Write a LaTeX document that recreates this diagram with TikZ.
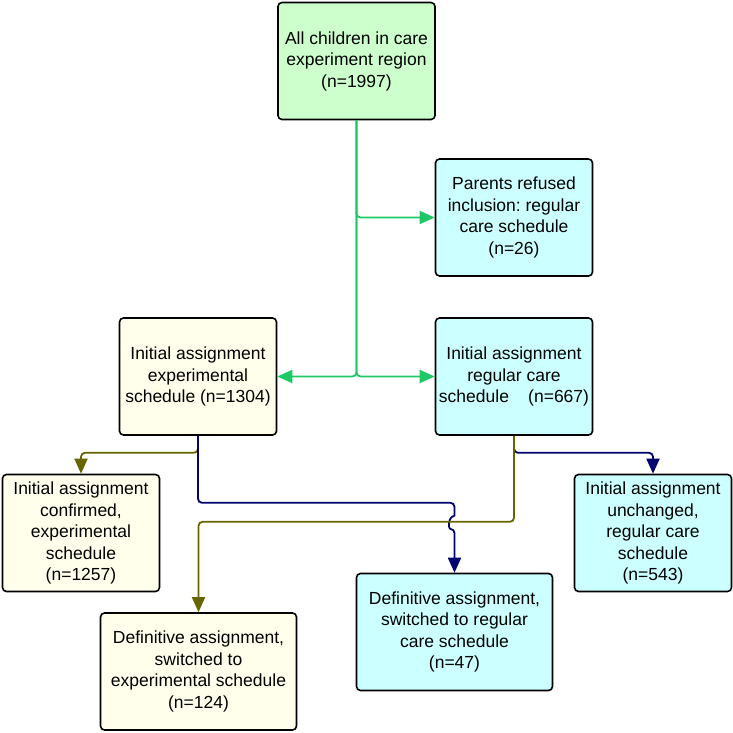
\documentclass[tikz,border=0pt]{standalone}
\usepackage{fontspec}
\setmainfont{Liberation Sans}
\frenchspacing
\usetikzlibrary{arrows.meta}
\definecolor{gline}{RGB}{30,200,100}
\definecolor{oline}{RGB}{102,102,0}
\definecolor{nline}{RGB}{0,0,110}
\definecolor{gfill}{RGB}{204,255,204}
\definecolor{cfill}{RGB}{204,255,255}
\definecolor{yfill}{RGB}{255,255,236}
\begin{document}
\begin{tikzpicture}[x=1pt,y=-1pt,
  box/.style={draw=black,line width=1.6pt,rounded corners=4pt,align=center,inner sep=2pt,
    font=\fontsize{17.5}{21.5}\selectfont,minimum width=157pt,minimum height=117pt},
  wbox/.style={box,minimum width=196pt},
  gbox/.style={box,fill=gfill},
  cbox/.style={box,fill=cfill},
  ybox/.style={box,fill=yfill},
  conn/.style={line width=1.8pt,rounded corners=4pt,-{Triangle[length=15pt,width=13pt]}},
  gconn/.style={conn,draw=gline,color=gline},
  oconn/.style={conn,draw=oline,color=oline},
  nconn/.style={conn,draw=nline,color=nline}]
\useasboundingbox (0,0) rectangle (733,733);
\node[gbox] (top) at (356.5,61) {All children in care\\experiment region\\(n=1997)};
\node[cbox] (parents) at (514,217.5) {Parents refused\\inclusion: regular\\care schedule\\(n=26)};
\node[ybox] (initexp) at (198,376.5) {Initial assignment\\experimental\\schedule (n=1304)};
\node[cbox] (initreg) at (514,376.5) {Initial assignment\\regular care\\schedule\hspace{1.1em}(n=667)};
\node[ybox] (confirmed) at (81,533) {Initial assignment\\confirmed,\\experimental\\schedule\\(n=1257)};
\node[cbox] (unchanged) at (653,533) {Initial assignment\\unchanged,\\regular care\\schedule\\(n=543)};
\node[cbox,wbox] (defreg) at (454.5,632) {Definitive assignment,\\switched to regular\\care schedule\\(n=47)};
\node[ybox,wbox] (defexp) at (198.5,671.5) {Definitive assignment,\\switched to\\experimental schedule\\(n=124)};
% green connectors
\draw[gconn] (top.south) |- (parents.west);
\draw[gconn] (top.south) |- (initexp.east);
\draw[gconn] (top.south) |- (initreg.west);
% from initial experimental
\draw[oconn] (initexp.south) -- ++(0,17) -| (confirmed.north);
\coordinate (hopa) at (454.5,516);
\coordinate (hopb) at (454.5,529);
\draw[line width=1.8pt,draw=nline,rounded corners=4pt] (initexp.south) -- ++(0,67) -| (hopa);
\draw[nconn] (hopa) .. controls (448,516) and (448,529) .. (hopb) -- (defreg.north);
% from initial regular
\draw[nconn] (initreg.south) -- ++(0,17) -| (unchanged.north);
\draw[oconn] (initreg.south) -- ++(0,86) -| (defexp.north);
\end{tikzpicture}
\end{document}
